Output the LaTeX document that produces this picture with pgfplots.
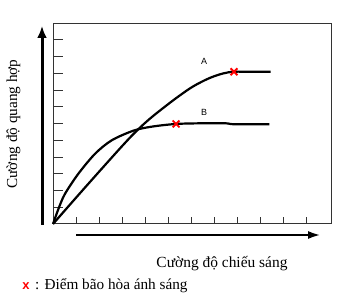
\documentclass[border=0pt]{standalone}
\usepackage{pgfplots}
\pgfplotsset{compat=1.18}
\usetikzlibrary{arrows.meta}
\usepackage{fontspec}
\setmainfont{Liberation Serif}
\newfontfamily\sans{Liberation Sans}
\definecolor{axgray}{HTML}{333333}
\begin{document}
\begin{tikzpicture}
\useasboundingbox (0,0) rectangle (347bp,302bp);
\begin{axis}[
  at={(53bp,78bp)}, anchor=origin,
  x=23bp, y=16.73bp,
  xmin=0, xmax=12.1, ymin=0, ymax=12,
  axis line style={axgray, line width=1bp},
  xtick={1,...,11}, ytick={1,...,11},
  xticklabels={}, yticklabels={},
  tick align=inside,
  xtick pos=bottom, ytick pos=left,
  major tick length=10bp,
  xtick style={axgray, line width=1bp, /pgfplots/major tick length=7bp},
  ytick style={axgray, line width=1bp},
  clip=false,
]
\addplot[black, line width=2.2bp, smooth, tension=0.55] coordinates {
 (0,0) (1,1.57) (2,3.12) (3,4.65) (3.6,5.52) (4.2,6.28) (4.9,7.05) (5.5,7.67) (6.1,8.23) (6.8,8.72) (7.4,9.0) (7.87,9.1) (8.6,9.1) (9.46,9.1)};
\addplot[black, line width=2.2bp, smooth, tension=0.5] coordinates {
 (0,0) (0.25,0.95) (0.52,1.8) (1.1,3.0) (1.83,4.2) (2.55,5.0) (3.5,5.58) (4.3,5.82) (5.35,5.98) (6.5,6.02) (7.5,6.02) (7.9,5.96) (9.41,5.96)};
\addplot[red, only marks, mark=x, mark size=4.8bp, line width=1.8bp] coordinates {(7.87,9.1) (5.35,5.98)};
\node[font=\sans\fontsize{9}{10}\selectfont] at (axis cs:6.57,9.74) {A};
\node[font=\sans\fontsize{9}{10}\selectfont] at (axis cs:6.57,6.69) {B};
\end{axis}
\draw[line width=3bp, -{Latex[length=12bp,width=10bp]}] (42bp,77bp) -- (42bp,276bp);
\draw[line width=2.5bp, -{Latex[length=13bp,width=8bp]}] (76bp,67bp) -- (321bp,67bp);
\node[rotate=90, anchor=base, font=\fontsize{15.3}{18}\selectfont] at (17bp,178bp) {Cường độ quang hợp};
\node[anchor=base, font=\fontsize{15.5}{18}\selectfont] at (222bp,35bp) {Cường độ chiếu sáng};
\node[anchor=base, text=red, font=\sans\bfseries\fontsize{13}{15}\selectfont] at (26bp,13bp) {x};
\node[anchor=base west, inner sep=0pt, font=\fontsize{15.3}{18}\selectfont] at (35bp,13bp) {: Điểm bão hòa ánh sáng};
\end{tikzpicture}
\end{document}
